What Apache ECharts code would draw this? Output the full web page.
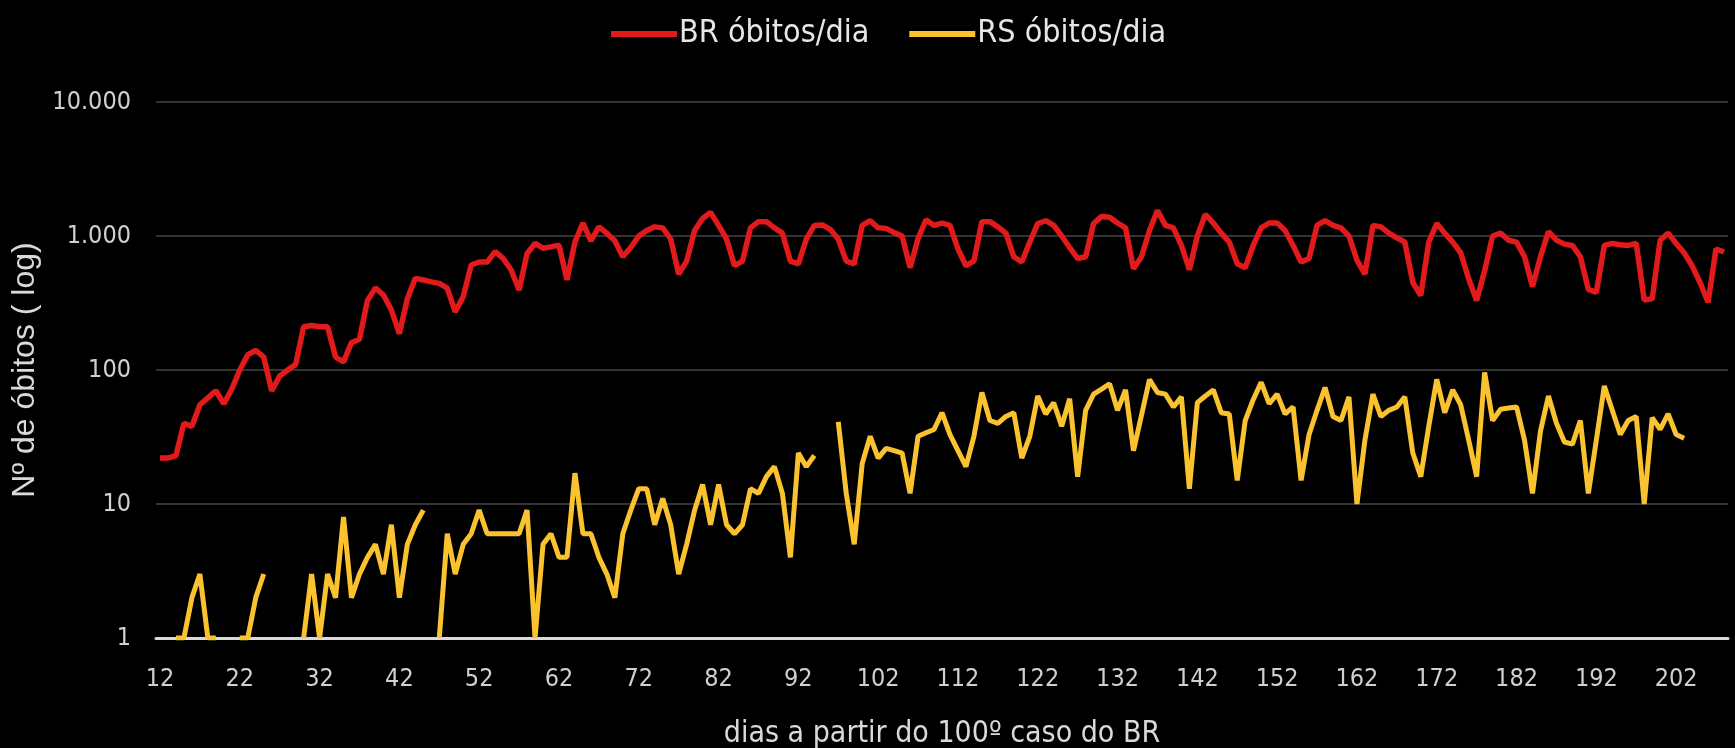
<!DOCTYPE html>
<html>
<head>
<meta charset="utf-8">
<script src="https://cdn.jsdelivr.net/npm/echarts@6/dist/echarts.min.js"></script>
<style>
html,body{margin:0;padding:0;background:#000;}
#chart{width:1735px;height:748px;}
</style>
</head>
<body>
<div id="chart"></div>
<script>
// days since the 100th case in Brazil (12..208)
const firstDay = 12;
const lastDay = 208;
const days = [];
for (let d = firstDay; d <= lastDay; d++) days.push(String(d));

// BR deaths per day (days 12..208)
const brDeaths = [
  22,22,23,40,38,55,62,70,56,72,            // 12-21
  100,130,140,125,70,90,100,110,210,215,    // 22-31
  210,210,125,115,160,170,330,410,363,280,  // 32-41
  187,340,483,470,455,443,408,272,353,607,  // 42-51
  640,640,765,680,560,395,740,880,810,830,  // 52-61
  855,470,900,1250,920,1170,1050,920,700,820, // 62-71
  1000,1100,1170,1150,950,520,650,1100,1350,1500, // 72-81
  1200,950,600,650,1150,1280,1280,1150,1050,650,  // 82-91
  620,950,1200,1210,1120,950,650,620,1200,1300,   // 92-101
  1150,1140,1060,1000,580,960,1320,1200,1250,1200, // 102-111
  800,600,650,1280,1280,1170,1050,700,640,900,     // 112-121
  1240,1300,1200,1000,820,680,700,1240,1400,1380,  // 122-131
  1250,1150,570,700,1100,1550,1200,1150,850,560,   // 132-141
  1000,1450,1250,1050,900,620,580,850,1150,1250,   // 142-151
  1250,1100,850,640,680,1200,1300,1200,1150,1000,  // 152-161
  660,520,1200,1170,1050,970,900,450,360,900,      // 162-171
  1240,1050,900,750,480,330,550,1000,1050,930,     // 172-181
  900,700,420,700,1080,930,870,850,700,400,        // 182-191
  380,850,880,860,850,880,333,340,930,1050,        // 192-201
  880,750,600,450,320,800,760                      // 202-208
];

// RS deaths per day (days 12..208); null = zero deaths (not drawn on log scale)
const rsDeaths = [
  null,null,1,1,2,3,1,1,null,null,          // 12-21
  1,1,2,3,null,null,null,null,1,3,          // 22-31
  1,3,2,8,2,3,4,5,3,7,                      // 32-41
  2,5,7,9,null,1,6,3,5,6,                   // 42-51
  9,6,6,6,6,6,9,1,5,6,                      // 52-61
  4,4,17,6,6,4,3,2,6,9,                     // 62-71
  13,13,7,11,7,3,5,9,14,7,                  // 72-81
  14,7,6,7,13,12,16,19,12,4,                // 82-91
  24,19,23,null,null,41,12,5,20,32,         // 92-101
  22,26,25,24,12,32,34,36,48,33,            // 102-111
  25,19,32,68,42,40,45,48,22,32,            // 112-121
  64,47,57,38,61,16,50,66,72,79,            // 122-131
  50,71,25,46,85,68,66,53,63,13,            // 132-141
  57,64,71,48,47,15,42,60,81,56,            // 142-151
  66,47,53,15,33,50,74,45,42,63,            // 152-161
  10,30,66,45,50,53,63,24,16,38,            // 162-171
  85,48,71,55,30,16,96,42,51,52,            // 172-181
  53,30,12,35,64,40,29,28,42,12,            // 182-191
  30,76,50,33,42,45,10,44,36,47,            // 192-201
  33,31,null,null,null,null,null            // 202-208
];

const yTicks = [1, 10, 100, 1000, 10000];
const seriesNames = ['BR óbitos/dia', 'RS óbitos/dia'];
const xTitle = 'dias a partir do 100º caso do BR';
const yTitle = 'Nº de óbitos ( log)';

function fmtPt(v) {
  return String(Math.round(v)).replace(/\B(?=(\d{3})+(?!\d))/g, '.');
}

const narrow = 'Liberation Sans Narrow, DejaVu Sans Condensed, Liberation Sans, sans-serif';

const chart = echarts.init(document.getElementById('chart'), null, {renderer: 'canvas'});
chart.setOption({
  backgroundColor: '#000000',
  animation: false,
  legend: {
    top: 13,
    left: 606,
    itemWidth: 66,
    itemHeight: 6,
    itemGap: 40,
    icon: 'rect',
    textStyle: {color: '#e6e6e6', fontSize: 32, fontFamily: narrow, padding: [0,0,0,-3]},
    data: seriesNames
  },
  grid: {left: 156, right: 7, top: 102, bottom: 110, containLabel: false, outerBoundsMode: 'none'},
  xAxis: {
    type: 'category',
    data: days,
    boundaryGap: true,
    name: xTitle,
    nameLocation: 'middle',
    nameGap: 81,
    nameTextStyle: {color: '#d9d9d9', fontSize: 30, fontFamily: narrow},
    axisLine: {show: true, lineStyle: {color: '#d9d9d9', width: 3}},
    axisTick: {show: false},
    axisLabel: {interval: 9, color: '#d0d0d0', fontSize: 25, margin: 29, fontFamily: narrow},
    splitLine: {show: false}
  },
  yAxis: {
    type: 'log',
    logBase: 10,
    min: yTicks[0],
    max: yTicks[yTicks.length - 1],
    name: yTitle,
    nameLocation: 'middle',
    nameGap: 114,
    nameRotate: 90,
    nameTextStyle: {color: '#d9d9d9', fontSize: 32, fontFamily: 'Liberation Sans, Arial, sans-serif'},
    axisLine: {show: false},
    axisTick: {show: false},
    axisLabel: {color: '#d0d0d0', fontSize: 25, margin: 25, fontFamily: narrow, formatter: fmtPt},
    splitLine: {show: true, lineStyle: {color: '#444444', width: 1.5}}
  },
  series: [
    {
      name: seriesNames[0],
      type: 'line',
      data: brDeaths,
      showSymbol: false,
      connectNulls: false,
      lineStyle: {color: '#e31a1c', width: 5.5},
      itemStyle: {color: '#e31a1c'},
      z: 3
    },
    {
      name: seriesNames[1],
      type: 'line',
      data: rsDeaths,
      showSymbol: false,
      connectNulls: false,
      lineStyle: {color: '#f9c22e', width: 5},
      itemStyle: {color: '#f9c22e'},
      z: 4
    }
  ]
});
</script>
</body>
</html>
